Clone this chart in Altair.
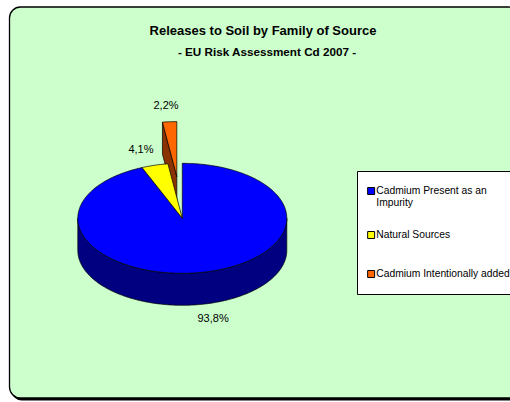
import math
import altair as alt
import pandas as pd

# ---------------- data ----------------
categories = ["Cadmium Present as an Impurity", "Natural Sources", "Cadmium Intentionally added"]
shares = [93.8, 4.1, 2.2]
share_labels = ["93,8%", "4,1%", "2,2%"]
top_colors = ["#0000FF", "#FFFF00", "#FF6600"]
side_colors = ["#000080", "#808000", "#8B3300"]
explode = [0.0, 0.0, 0.76]

title_text = "Releases to Soil by Family of Source"
subtitle_text = "- EU Risk Assessment Cd 2007 -"

# ---------------- geometry (pseudo-3D elliptical pie) ----------------
FONT = "Liberation Sans, Arial, sans-serif"
CX, CY, RX, RY, DEPTH = 182.3, 218.3, 104.5, 55.0, 32.0
LABEL_KX, LABEL_KY = 1.5, 1.28

total = float(sum(shares))


def ell(cx, cy, th, kx=1.0, ky=1.0):
    return [cx + kx * RX * math.sin(th), cy - ky * RY * math.cos(th)]


def arc(cx, cy, a, b, dy=0.0):
    n = max(2, int(abs(b - a) / math.radians(1.0)) + 1)
    pts = []
    for k in range(n):
        t = a + (b - a) * k / (n - 1)
        pts.append([cx + RX * math.sin(t), cy + dy - RY * math.cos(t)])
    return pts


def feature(ring, **props):
    ring = ring + [ring[0]]
    return {"type": "Feature",
            "geometry": {"type": "Polygon", "coordinates": [ring]},
            "properties": props}


tops, sides, label_rows = [], [], []
start = 0.0
for name, share, lab, scol, ex in zip(categories, shares, share_labels, side_colors, explode):
    a = start
    b = start + 2 * math.pi * share / total
    start = b
    mid = (a + b) / 2
    cx = CX + ex * RX * math.sin(mid)
    cy = CY - ex * RY * math.cos(mid)
    lo, hi = max(a, math.pi / 2), min(b, 3 * math.pi / 2)
    if hi > lo:
        ring = arc(cx, cy, lo, hi) + arc(cx, cy, hi, lo, DEPTH)
        sides.append(feature(ring, color=scol))
    if ex > 0:
        if math.sin(a) < -1e-9:
            p = ell(cx, cy, a)
            sides.append(feature([[cx, cy], p, [p[0], p[1] + DEPTH], [cx, cy + DEPTH]], color=scol))
        if math.sin(b) > 1e-9:
            p = ell(cx, cy, b)
            sides.append(feature([[cx, cy], p, [p[0], p[1] + DEPTH], [cx, cy + DEPTH]], color=scol))
    tops.append(feature([[cx, cy]] + arc(cx, cy, a, b), name=name))
    lx, ly = ell(cx, cy, mid, LABEL_KX, LABEL_KY)
    if math.cos(mid) < 0:
        ly += DEPTH
    label_rows.append({"lon": lx, "lat": ly, "text": lab})

PROJ = dict(type="identity", scale=1, translate=[0, 0])

shadow = alt.Chart(alt.Data(values=[{}])).mark_rect(
    fill="black", cornerRadius=11
).encode(x=alt.value(11), x2=alt.value(524), y=alt.value(9), y2=alt.value(400.5))

panel = alt.Chart(alt.Data(values=[{}])).mark_rect(
    fill="#CCFFCC", stroke="black", strokeWidth=1.3, cornerRadius=11
).encode(x=alt.value(9.5), x2=alt.value(520), y=alt.value(7), y2=alt.value(398))

side_layer = alt.Chart(alt.Data(values=sides)).mark_geoshape(
    stroke="black", strokeWidth=0.7
).encode(fill=alt.Fill("properties.color:N", scale=None)).project(**PROJ)

top_layer = alt.Chart(alt.Data(values=tops)).mark_geoshape(
    stroke="black", strokeWidth=0.7
).encode(
    fill=alt.Fill(
        "properties.name:N",
        title=None,
        scale=alt.Scale(domain=categories, range=top_colors),
        legend=alt.Legend(
            orient="none", legendX=357, legendY=171,
            fillColor="white", strokeColor="black", padding=7,
            symbolType="square", symbolSize=49, symbolStrokeColor="black",
            symbolStrokeWidth=1, symbolOffset=2, labelOffset=0,
            labelFont=FONT, labelFontSize=10.3, labelColor="black",
            labelLimit=400, labelBaseline="middle",
            clipHeight=26, rowPadding=13,
            labelExpr="datum.label == 'Cadmium Present as an Impurity' ? ['Cadmium Present as an', 'Impurity'] : datum.label",
        ),
    )
).project(**PROJ)

label_layer = alt.Chart(pd.DataFrame(label_rows)).mark_text(
    font=FONT, fontSize=11, color="black"
).encode(longitude="lon:Q", latitude="lat:Q", text="text:N").project(**PROJ)

title_layer = alt.Chart(pd.DataFrame({"t": [title_text]})).mark_text(
    font=FONT, fontSize=13, fontWeight="bold", color="black"
).encode(x=alt.value(263), y=alt.value(31), text="t:N")

subtitle_layer = alt.Chart(pd.DataFrame({"t": [subtitle_text]})).mark_text(
    font=FONT, fontSize=11.7, fontWeight="bold", color="black"
).encode(x=alt.value(267), y=alt.value(52), text="t:N")

chart = alt.layer(
    shadow, panel, side_layer, top_layer, label_layer, title_layer, subtitle_layer
).properties(
    width=510, height=402, autosize=alt.AutoSizeParams(type="none"), padding=0,
    background="white",
).configure_view(strokeWidth=0)

chart.save("out.html", embed_options={"renderer": "svg", "actions": False})
